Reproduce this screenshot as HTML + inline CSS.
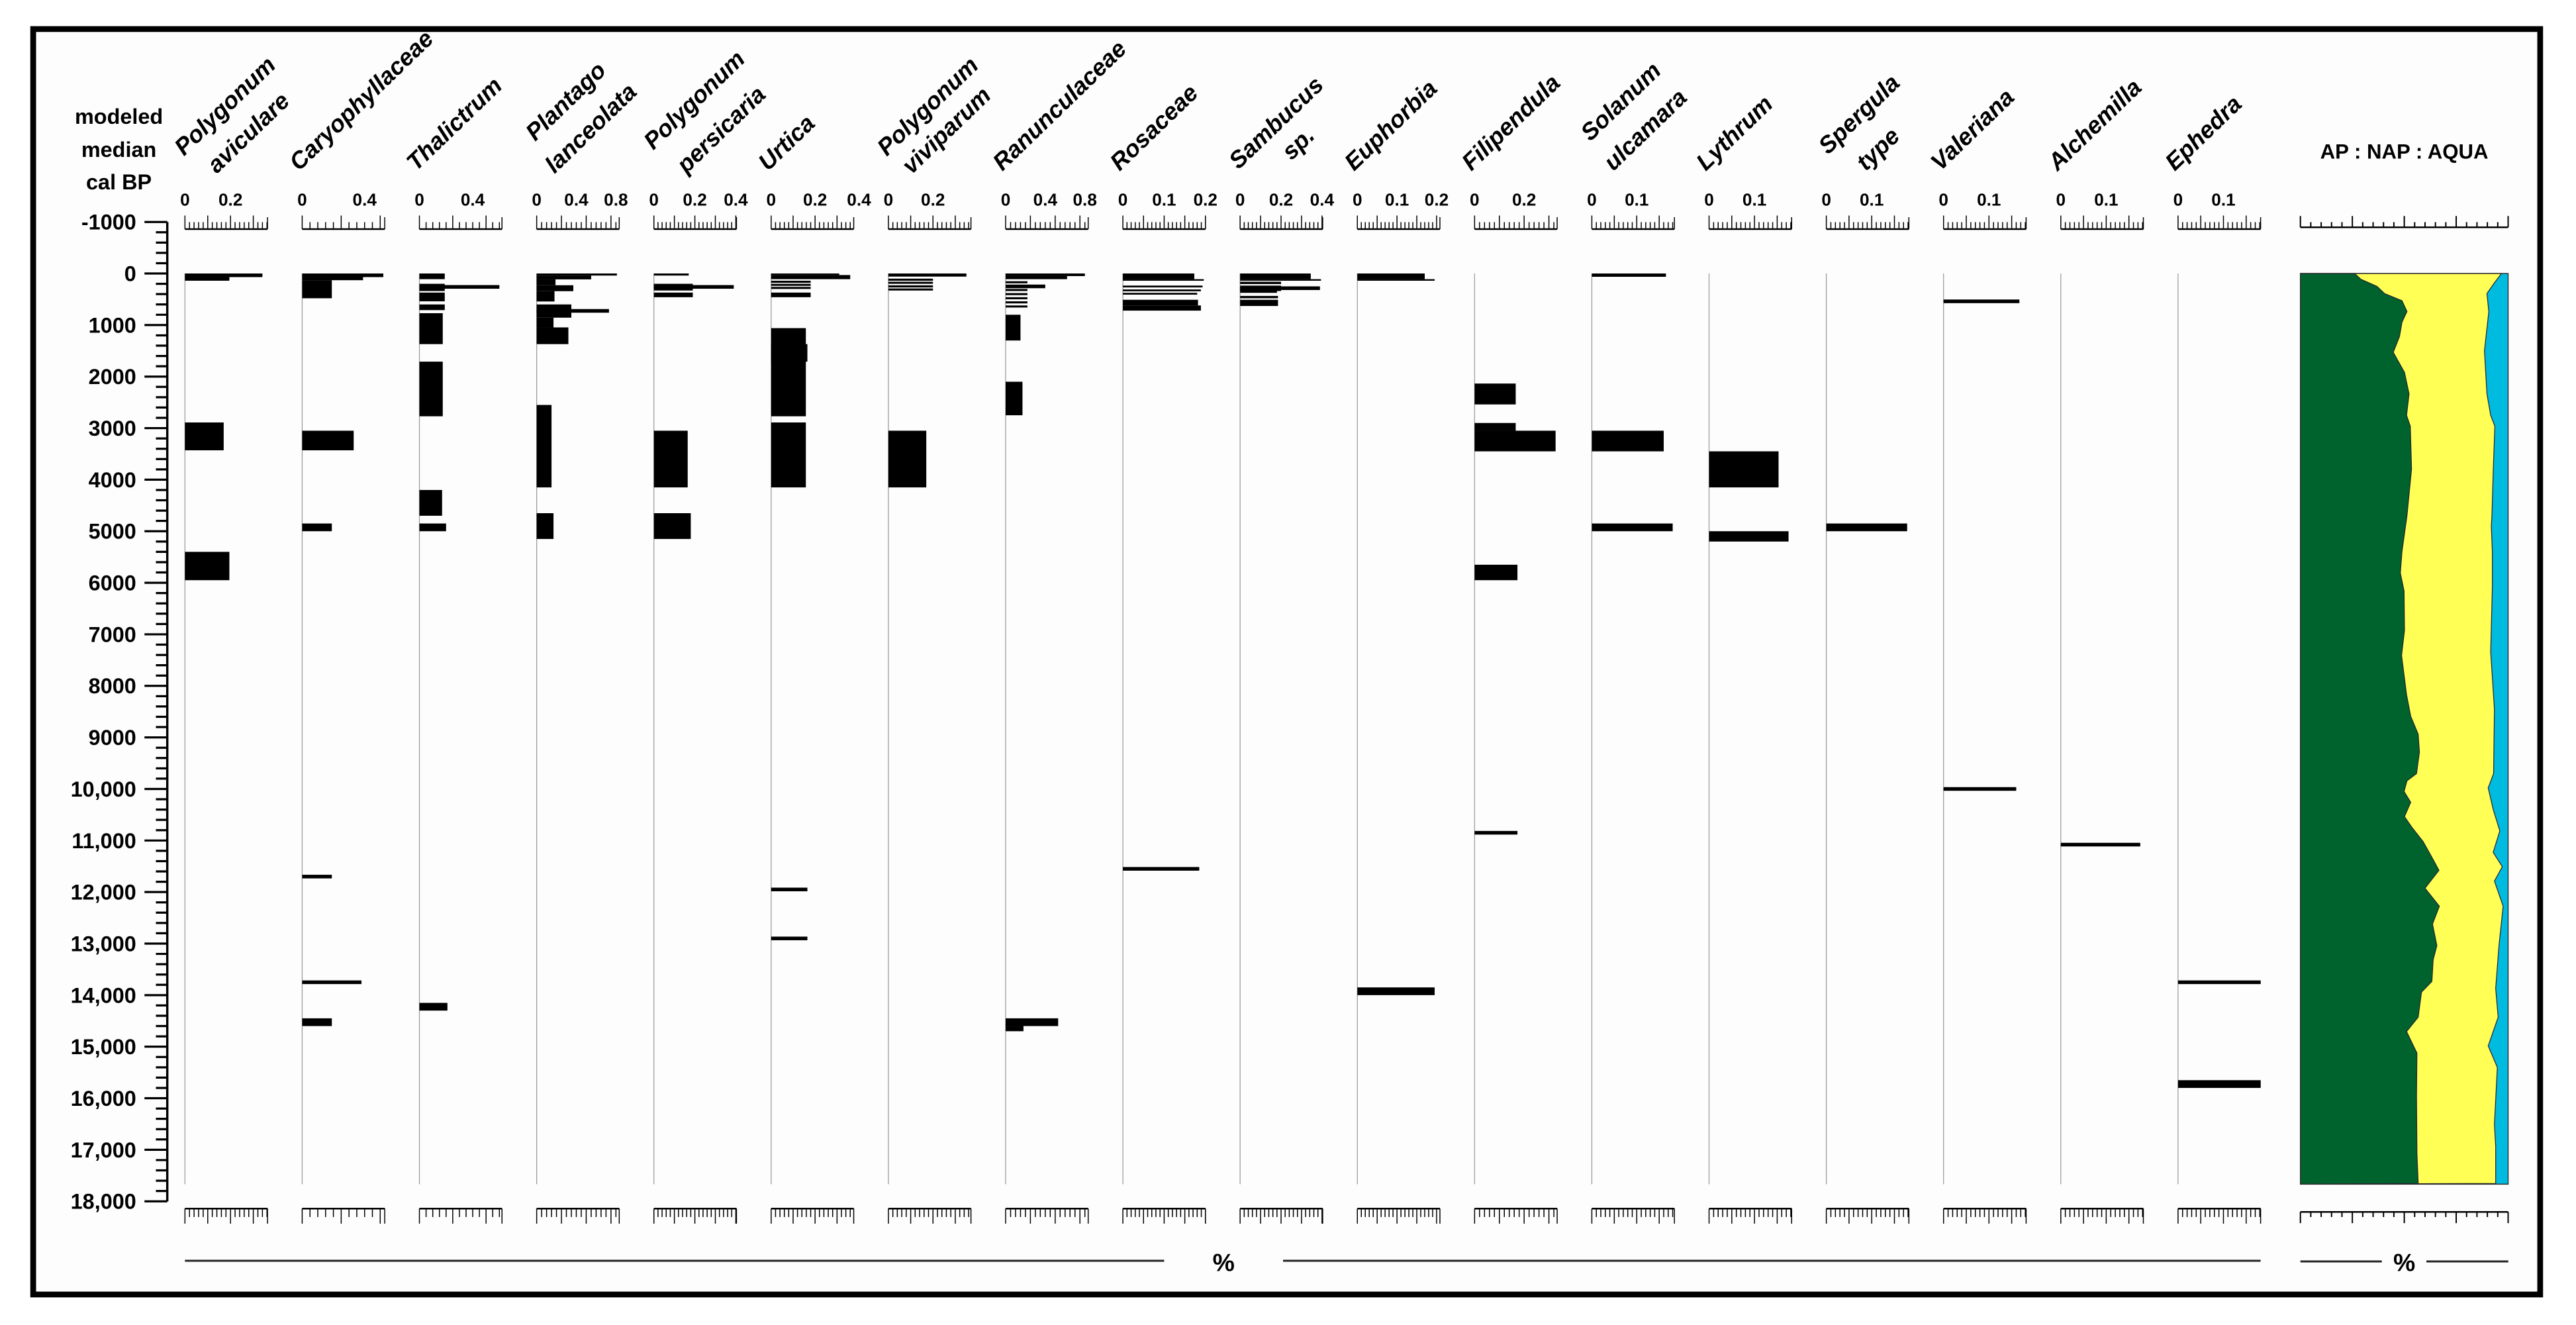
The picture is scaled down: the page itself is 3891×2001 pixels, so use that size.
<!DOCTYPE html>
<html>
<head>
<meta charset="utf-8">
<style>
html,body{margin:0;padding:0;background:#fff;}
svg{display:block;}
text{font-family:"Liberation Sans",sans-serif;font-weight:bold;fill:#000;}
</style>
</head>
<body>
<svg id="chart" xmlns="http://www.w3.org/2000/svg" width="3891" height="2001" viewBox="0 0 1560 802.27" preserveAspectRatio="none">
  <rect x="0" y="0" width="1560" height="802.27" fill="#fff"/>
  <rect x="20.1" y="17.6" width="1518.2" height="766.2" fill="#fdfdfd" stroke="#000" stroke-width="3.5"/>
  <g>
    <text x="72" y="75" font-size="13" text-anchor="middle">modeled</text>
    <text x="72" y="95" font-size="13" text-anchor="middle">median</text>
    <text x="72" y="114.6" font-size="13" text-anchor="middle">cal BP</text>
  </g>
  <text x="1456" y="96" font-size="12.5" text-anchor="middle">AP : NAP : AQUA</text>
  <g id="yaxis"></g>
  <g id="cols"></g>
  <g id="panel"></g>
  <g>
    <line x1="112" y1="763.4" x2="705" y2="763.4" stroke="#222" stroke-width="1.2"/>
    <text x="741" y="769.5" font-size="15" text-anchor="middle">%</text>
    <line x1="777" y1="763.4" x2="1369" y2="763.4" stroke="#222" stroke-width="1.2"/>
  </g>
  <g>
    <line x1="1393.1" y1="763.8" x2="1442.4" y2="763.8" stroke="#222" stroke-width="1.2"/>
    <text x="1456" y="769.5" font-size="15" text-anchor="middle">%</text>
    <line x1="1469.4" y1="763.8" x2="1519" y2="763.8" stroke="#222" stroke-width="1.2"/>
  </g>
</svg>
<script>
// ---------- data ----------
const yTickAges = [-1000,0,1000,2000,3000,4000,5000,6000,7000,8000,9000,10000,11000,12000,13000,14000,15000,16000,17000,18000];
const yTickLabels = ["-1000","0","1000","2000","3000","4000","5000","6000","7000","8000","9000","10,000","11,000","12,000","13,000","14,000","15,000","16,000","17,000","18,000"];

const taxaLine1 = ["Polygonum","","","Plantago","Polygonum","","Polygonum","","","Sambucus","","","Solanum","","Spergula","","",""];
const taxaLine2 = ["aviculare","Caryophyllaceae","Thalictrum","lanceolata","persicaria","Urtica","viviparum","Ranunculaceae","Rosaceae","sp.","Euphorbia","Filipendula","ulcamara","Lythrum","type","Valeriana","Alchemilla","Ephedra"];
const colScale = [138,94.5,80.7,60,124,133,135,60,250,124,240,150,272,275,275,275,275,275];
const colTickValues = [[0,0.2],[0,0.4],[0,0.4],[0,0.4,0.8],[0,0.2,0.4],[0,0.2,0.4],[0,0.2],[0,0.4,0.8],[0,0.1,0.2],[0,0.2,0.4],[0,0.1,0.2],[0,0.2],[0,0.1],[0,0.1],[0,0.1],[0,0.1],[0,0.1],[0,0.1]];
const colTickLabels = [["0","0.2"],["0","0.4"],["0","0.4"],["0","0.4","0.8"],["0","0.2","0.4"],["0","0.2","0.4"],["0","0.2"],["0","0.4","0.8"],["0","0.1","0.2"],["0","0.2","0.4"],["0","0.1","0.2"],["0","0.2"],["0","0.1"],["0","0.1"],["0","0.1"],["0","0.1"],["0","0.1"],["0","0.1"]];

// block bars: column index, top age, bottom age, value
const barCol  = [0,0,0,0, 1,1,1,1,1,1, 2,2,2,2,2,2,2,2,2, 3,3,3,3,3,3,3,3,3,3, 4,4,4,4,4, 5,5,5,5,5,5,5,5,5, 6,6,6,6,6,6, 7,7,7,7,7,7,7,7,7,7,7,7, 8,8,8,8,8,8,8, 9,9,9,9,9,9,9, 10,10,10, 11,11,11,11, 12,12,12, 13,13, 14, 17];
const barFrom = [0,70,2890,5400, 0,70,130,3050,4850,14450, 0,200,370,600,770,1710,4200,4850,14150, 0,40,114,228,343,600,857,1046,2550,4650, 0,200,370,3050,4650, 0,30,140,200,260,370,1060,1370,2890, 0,100,160,230,290,3050, 0,50,150,300,380,460,540,620,800,2100,14450,14600, 0,110,235,310,375,510,620, 0,110,160,235,330,435,510, 0,110,13850, 2135,2900,3050,5650, 0,3050,4850, 3450,5000, 4850, 15650];
const barTo   = [70,140,3430,5950, 70,130,480,3430,5000,14600, 110,340,540,710,1370,2770,4700,5000,14300, 40,114,228,343,543,857,1046,1370,4150,5150, 40,330,460,4150,5150, 30,110,180,240,300,460,2770,1710,4150, 60,140,200,270,330,4150, 50,110,190,340,420,500,580,660,1300,2750,14600,14700, 110,140,270,345,410,620,720, 110,140,205,340,375,480,630, 110,140,14000, 2540,3050,3450,5950, 64,3450,5000, 4150,5200, 5000, 15800];
const barVal  = [0.34,0.195,0.17,0.195, 0.52,0.39,0.19,0.33,0.19,0.19, 0.19,0.19,0.19,0.19,0.175,0.175,0.17,0.2,0.21, 0.81,0.55,0.19,0.37,0.18,0.35,0.17,0.32,0.15,0.17, 0.17,0.19,0.19,0.165,0.18, 0.31,0.36,0.18,0.18,0.18,0.18,0.158,0.165,0.158, 0.35,0.2,0.2,0.2,0.2,0.17, 0.8,0.62,0.22,0.22,0.22,0.22,0.22,0.22,0.15,0.17,0.53,0.18, 0.173,0.196,0.193,0.189,0.18,0.182,0.189, 0.345,0.395,0.2,0.2,0.18,0.185,0.185, 0.17,0.195,0.195, 0.166,0.166,0.327,0.173, 0.165,0.16,0.18, 0.153,0.175, 0.178, 0.182];
// single-sample lines: column index, age, value
const lineCol = [1,1,2,3,4,5,5,7,8,9,11,15,15,16,17];
const lineAge = [11700,13750,260,725,260,11950,12900,250,11550,285,10850,540,10000,11080,13750];
const lineVal = [0.19,0.38,0.6,0.73,0.39,0.165,0.165,0.4,0.185,0.39,0.173,0.167,0.16,0.175,0.182];

// AP : NAP : AQUA summary (cumulative %)
const apAges = [0,111,250,389,528,737,945,1223,1529,1918,2335,2752,2961,3795,4698,5393,5810,6158,6922,7409,8173,8590,8938,9285,9702,9841,10050,10258,10536,10745,11023,11370,11579,11926,12274,12621,13038,13316,13733,13942,14428,14706,15123,15957,17069,17653];
const apPct  = [26.1,29.1,36.9,40.5,48.9,51.3,48.9,47.7,44.7,50.1,52.3,51.1,52.9,53.5,51.3,48.9,48.1,49.9,50.1,48.7,51.1,53.1,56.7,57.3,55.9,51.3,49.9,53.1,50.1,53.7,59.1,63.9,66.7,60.0,66.9,63.6,65.7,63.9,63.3,58.3,56.7,51.1,56.1,55.9,56.1,56.7];
const aquaAges = [0,181,389,737,1501,2335,2752,2961,3864,4698,4907,5393,6088,7339,8451,9702,9980,10397,10814,11231,11509,11787,12274,13038,13872,14428,14984,15401,16513,16930,17653];
const aquaPct  = [96.8,93.4,89.8,90.7,88.6,89.8,91.6,93.6,92.8,92.2,91.9,92.4,92.4,91.6,93.4,93.0,90.4,92.8,96.0,92.8,97.2,93.4,97.6,95.6,94.0,95.2,90.4,94.8,93.4,94.0,94.0];

// ---------- scales ----------
const NS = "http://www.w3.org/2000/svg";
const Y0 = 165.6, YK = 0.03121;
function yOf(age){ return Y0 + age*YK; }
function colX(i){ return 112 + i*71.0; }
function xOf(i, v){ return colX(i) + v*colScale[i]; }
const PX0 = 1393.1, PX1 = 1518.9;
function pxOf(p){ return PX0 + p*(PX1-PX0)/100; }
function mk(tag, attrs, parent){
  const e = document.createElementNS(NS, tag);
  for (const k in attrs) e.setAttribute(k, attrs[k]);
  parent.appendChild(e);
  return e;
}

// ---------- y axis ----------
const ya = document.getElementById('yaxis');
const axLine = mk('line',{x1:101.3,y1:yOf(-1000),x2:101.3,y2:yOf(18000),stroke:'#000','stroke-width':1.4},ya);


for (let a=-1000; a<=18000; a+=200){
  const major = (a % 1000 === 0);
  const t = mk('line',{x1:major?87.5:94.4,y1:yOf(a),x2:101.3,y2:yOf(a),stroke:'#000','stroke-width':1.3},ya);
  
  
}
yTickAges.forEach((a,i)=>{
  const t = mk('text',{x:82.5,y:yOf(a)+4.6,'font-size':13,'text-anchor':'end'},ya);
  t.textContent = yTickLabels[i];
  
  
});

// ---------- columns ----------
const cg = document.getElementById('cols');
const labelStart1 = [[111.4,94.8],null,null,[324.1,85.9],[395.6,91.2],null,[537,95],null,null,[750,103],null,null,[963,86],null,[1107,94],null,null,null];
const labelStart2 = [[131.3,105.5],null,null,[335.8,105.5],[415.6,105.5],null,[552,106],null,null,[782,97.5],null,null,[977,104],null,[1130,104],null,null,null];
function tickStep(k){ return k>=200?0.01:(k>=110?0.02:0.05); }
for (let i=0;i<18;i++){
  const g = mk('g',{},cg);
  
  
  const x0 = colX(i);
  const lg = mk('g',{},g);
  
  
  if (taxaLine1[i]){
    const p1 = labelStart1[i], p2 = labelStart2[i];
    const t1 = mk('text',{x:0,y:0,'font-size':14.4,'font-style':'italic',transform:`translate(${p1[0]},${p1[1]}) rotate(-44)`},lg);
    t1.textContent = taxaLine1[i];
    const t2 = mk('text',{x:0,y:0,'font-size':14.4,'font-style':'italic',transform:`translate(${p2[0]},${p2[1]}) rotate(-44)`},lg);
    t2.textContent = taxaLine2[i];
  } else {
    const t = mk('text',{x:0,y:0,'font-size':14.4,'font-style':'italic',transform:`translate(${x0-2},104) rotate(-44)`},lg);
    t.textContent = taxaLine2[i];
  }
  const k = colScale[i], st = tickStep(k), maxV = 50/k;
  const sc = mk('g',{},g);
  
  
  mk('line',{x1:x0,y1:138.7,x2:x0+50,y2:138.7,stroke:'#000','stroke-width':1},sc);
  const bs = mk('g',{},g);
  
  
  mk('line',{x1:x0,y1:731.8,x2:x0+50,y2:731.8,stroke:'#000','stroke-width':1},bs);
  for (let n=0; n*st<=maxV+1e-9; n++){
    const xx = xOf(i, n*st);
    const maj = (n%5===0);
    mk('line',{x1:xx,y1:138.7,x2:xx,y2:maj?130.5:134.5,stroke:'#000','stroke-width':0.6},sc);
    mk('line',{x1:xx,y1:731.8,x2:xx,y2:maj?740.9:736.9,stroke:'#000','stroke-width':0.6},bs);
  }
  mk('line',{x1:x0+50,y1:138.7,x2:x0+50,y2:131.5,stroke:'#000','stroke-width':0.6},sc);
  mk('line',{x1:x0+50,y1:731.8,x2:x0+50,y2:740.9,stroke:'#000','stroke-width':0.6},bs);
  colTickValues[i].forEach((v,j)=>{
    const t = mk('text',{x:xOf(i,v),y:124.5,'font-size':10.5,'text-anchor':'middle'},g);
    t.textContent = colTickLabels[i][j];
    
    
  });
  const zl = mk('line',{x1:x0,y1:Y0,x2:x0,y2:717,stroke:'#999','stroke-width':0.5},g);
  
  
}
for (let b=0;b<barCol.length;b++){
  const i = barCol[b];
  const r = mk('rect',{x:colX(i),y:yOf(barFrom[b]),width:xOf(i,barVal[b])-colX(i),height:Math.max(0.8,yOf(barTo[b])-yOf(barFrom[b])),fill:'#000'},cg);
  
  
}
for (let b=0;b<lineCol.length;b++){
  const i = lineCol[b];
  const r = mk('rect',{x:colX(i),y:yOf(lineAge[b])-1.1,width:xOf(i,lineVal[b])-colX(i),height:2.2,fill:'#000'},cg);
  
  
}

// ---------- AP : NAP : AQUA panel ----------
const pg = document.getElementById('panel');
const yTop = yOf(0), yBot = 717;
const aqua = mk('rect',{x:PX0,y:yTop,width:PX1-PX0,height:yBot-yTop,fill:'#00bbe0'},pg);


let yp = `${PX0},${yTop} `;
aquaAges.forEach((a,i)=>{ yp += `${pxOf(aquaPct[i])},${Math.min(yBot,yOf(a))} `; });
yp += `${PX0},${yBot}`;
const nap = mk('polygon',{points:yp,fill:'#ffff55',stroke:'#223',"stroke-width":0.5},pg);


let gp = `${PX0},${yTop} `;
apAges.forEach((a,i)=>{ gp += `${pxOf(apPct[i])},${Math.min(yBot,yOf(a))} `; });
gp += `${PX0},${yBot}`;
const ap = mk('polygon',{points:gp,fill:'#00632d',stroke:'#223',"stroke-width":0.5},pg);


const pb = mk('rect',{x:PX0,y:yTop,width:PX1-PX0,height:yBot-yTop,fill:'none',stroke:'#333','stroke-width':0.6},pg);


const pts = mk('g',{},pg);


mk('line',{x1:PX0,y1:137.6,x2:PX1,y2:137.6,stroke:'#000','stroke-width':1},pts);
mk('line',{x1:PX0,y1:733.8,x2:PX1,y2:733.8,stroke:'#000','stroke-width':1},pts);
for (let p=0;p<=100;p+=5){
  const maj = (p%25===0);
  mk('line',{x1:pxOf(p),y1:137.6,x2:pxOf(p),y2:maj?130.8:134.5,stroke:'#000','stroke-width':0.8},pts);
  mk('line',{x1:pxOf(p),y1:733.8,x2:pxOf(p),y2:maj?740.6:736.9,stroke:'#000','stroke-width':0.8},pts);
}
</script>
</body>
</html>
